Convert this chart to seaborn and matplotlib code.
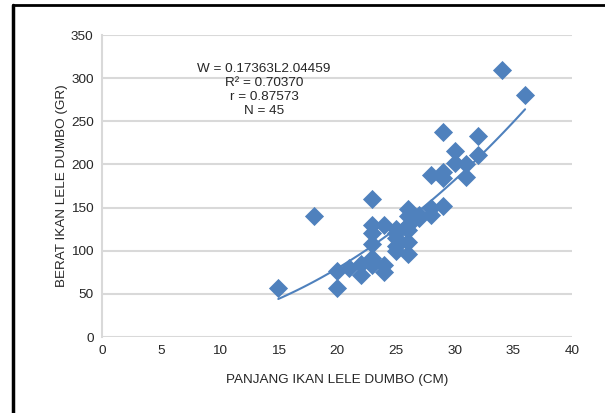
import numpy as np
import pandas as pd
import matplotlib.pyplot as plt
import seaborn as sns

# Data, N = 45
panjang = [15, 18, 20, 20, 21, 22, 22,
           23, 23, 23, 23, 23, 23, 23,
           24, 24, 24,
           25, 25, 25, 25, 25,
           26, 26, 26, 26, 26, 26,
           27, 27, 28, 28, 28,
           29, 29, 29, 29, 30, 30, 31, 31, 32, 32, 34, 36]
berat = [57, 140, 76, 57, 80, 72, 85,
         160, 130, 120, 108, 92, 84, 88,
         130, 83, 75,
         125, 115, 106, 100, 120,
         148, 140, 130, 124, 110, 96,
         142, 138, 188, 150, 142,
         238, 191, 184, 152, 216, 202, 200, 185, 233, 211, 310, 280]

# Koefisien regresi power W = a * L^b
a_coef = 0.17363
b_coef = 2.04459

df = pd.DataFrame({"panjang": panjang, "berat": berat})
L = np.linspace(15, 36, 60)
fit = pd.DataFrame({"panjang": L, "berat": a_coef * L ** b_coef})

sns.set_style("white")
plt.rcParams["font.family"] = ["Liberation Sans", "DejaVu Sans"]

fig = plt.figure(figsize=(6.05, 4.13), dpi=100)
ax = fig.add_axes([0.1686, 0.184, 0.777, 0.731])

ax.yaxis.grid(True, color="#D9D9D9", linewidth=1.5)
ax.set_axisbelow(True)

sns.lineplot(data=fit, x="panjang", y="berat", color="#4F81BD", linewidth=1.5, ax=ax)
sns.scatterplot(data=df, x="panjang", y="berat", marker="D", s=95, color="#4F81BD",
                edgecolor="#4F81BD", linewidth=0, ax=ax, zorder=3)

ax.set_xlim(0, 40)
ax.set_ylim(0, 350)
ax.set_xticks(range(0, 41, 5))
ax.set_yticks(range(0, 351, 50))
ax.tick_params(labelsize=9.7, length=0, pad=6)

for s in ["top", "right", "bottom"]:
    ax.spines[s].set_visible(False)
ax.spines["left"].set_color("#D9D9D9")
ax.spines["left"].set_linewidth(1.5)

ax.set_xlabel("PANJANG IKAN LELE DUMBO (CM)", fontsize=9.7, labelpad=12)
ax.set_ylabel("BERAT IKAN LELE DUMBO (GR)", fontsize=9.7, labelpad=2)

ax.text(13.8, 318, "W = 0.17363L2.04459\nR² = 0.70370\nr = 0.87573\nN = 45",
        ha="center", va="top", fontsize=9.7, linespacing=1.25)

# bingkai hitam
fig.add_artist(plt.Line2D([0.022, 0.022], [0, 0.987], color="black", linewidth=2.5,
                          transform=fig.transFigure))
fig.add_artist(plt.Line2D([0.022, 1], [0.987, 0.987], color="black", linewidth=2,
                          transform=fig.transFigure))

fig.savefig("out.png", dpi=100)
